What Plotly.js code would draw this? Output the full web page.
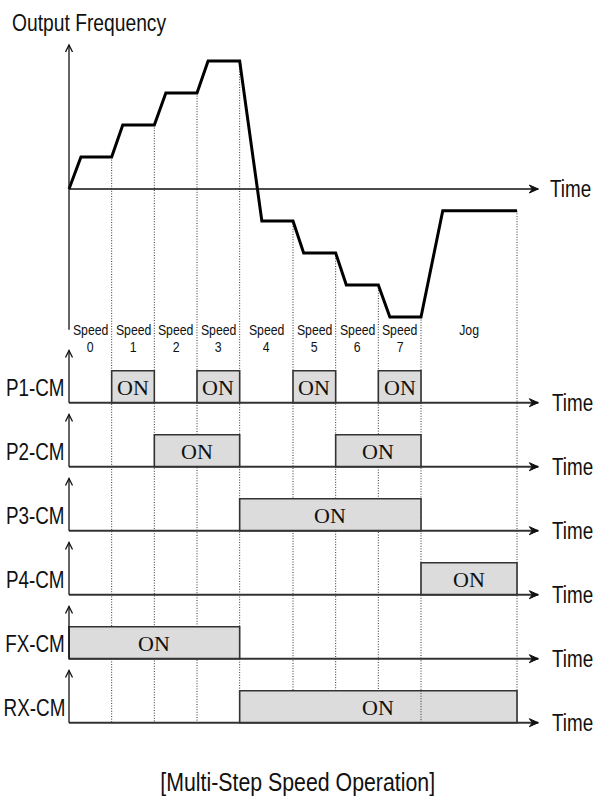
<!DOCTYPE html>
<html><head><meta charset="utf-8">
<script src="https://cdn.plot.ly/plotly-3.0.1.min.js"></script>
<style>html,body{margin:0;padding:0;background:#fff}#chart{width:596px;height:801px}</style>
</head><body><div id="chart"></div>
<script>
// ---------------- data ----------------
const segmentTop = ['Speed','Speed','Speed','Speed','Speed','Speed','Speed','Speed','Jog'];
const segmentSub = ['0','1','2','3','4','5','6','7',''];
const boundaries = [0, 1, 2, 3, 4, 5.25, 6.25, 7.25, 8.25, 10.5];
const freqTime  = [0, 0.28, 1, 1.26, 2, 2.27, 3, 3.26, 4, 4.52, 5.25, 5.5, 6.25, 6.5, 7.25, 7.52, 8.25, 8.76, 10.5];
const freqValue = [0, 1, 1, 2, 2, 3, 3, 4, 4, -1, -1, -2, -2, -3, -3, -4, -4, -0.68, -0.68];
const signalNames = ['P1-CM','P2-CM','P3-CM','P4-CM','FX-CM','RX-CM'];
const signalOn = [
  [[1,2],[3,4],[5.25,6.25],[7.25,8.25]],
  [[2,4],[6.25,8.25]],
  [[4,8.25]],
  [[8.25,10.5]],
  [[0,4]],
  [[4,10.5]]
];
const onText = 'ON';
const timeLabel = 'Time';
const yTitle = 'Output Frequency';
const caption = '[Multi-Step Speed Operation]';
const timeEnd = 11;

// ---------------- layout constants ----------------
const W = 596, H = 801;
const X0PX = 69, UNIT_X = (517 - 69) / 10.5;
const Y0PX = 189, UNIT_Y = 32;
const xr = [-X0PX / UNIT_X, (W - X0PX) / UNIT_X];
const yr = [(Y0PX - H) / UNIT_Y, Y0PX / UNIT_Y];
const ROW0 = (Y0PX - 402.7) / UNIT_Y, ROWGAP = 2;
const rowBase = signalNames.map((_, k) => ROW0 - ROWGAP * k);
const SANS = '"Liberation Sans", Arial, sans-serif';
const SERIF = '"Liberation Serif","Times New Roman",serif';
const NARROW = 0.82; // emulate Arial Narrow
const DOT = '1px,1.6px';
const px2x = p => p / W, py2y = p => 1 - p / H;

function levelAt(t) {
  const i = freqTime.indexOf(t);
  return freqValue[i];
}

const shapes = [];
const annotations = [];
const lastBase = rowBase[rowBase.length - 1];

// dotted guides
boundaries.slice(1).forEach(b => {
  shapes.push({type:'line', layer:'below', xref:'x', yref:'y', x0:b, x1:b, y0:levelAt(b), y1:lastBase,
    line:{color:'#333', width:1, dash:DOT}});
});

// ON boxes
signalOn.forEach((ivals, k) => {
  ivals.forEach(iv => {
    shapes.push({type:'rect', xref:'x', yref:'y', x0:iv[0], x1:iv[1], y0:rowBase[k], y1:rowBase[k] + 1,
      fillcolor:'#dcdcdc', line:{color:'#333', width:1.6}});
    annotations.push({xref:'x', yref:'y', x:(iv[0] + iv[1]) / 2, y:rowBase[k] + 0.47, text:onText,
      showarrow:false, xanchor:'center', yanchor:'middle', font:{family:SERIF, size:22, color:'#111'}});
  });
});
// guide through last box (drawn on top as in reference)
shapes.push({type:'line', xref:'x', yref:'y', x0:boundaries[8], x1:boundaries[8], y0:rowBase[5], y1:rowBase[5] + 1,
  line:{color:'#333', width:1, dash:DOT}});

// baselines and vertical axes for signal rows
rowBase.forEach((b, k) => {
  shapes.push({type:'line', xref:'x', yref:'y', x0:0, x1:timeEnd, y0:b, y1:b, line:{color:'#333', width:2}});
  shapes.push({type:'line', xref:'x', yref:'y', x0:0, x1:0, y0:b, y1:b + 1.63, line:{color:'#111', width:1.3}});
  shapes.push({type:'path', xref:'x', yref:'y', xsizemode:'pixel', ysizemode:'pixel', xanchor:0, yanchor:b + 1.63,
    path:'M-3.5,-7 L0,0 L3.5,-7', line:{color:'#111', width:1.3}});
  shapes.push({type:'path', xref:'x', yref:'y', xsizemode:'pixel', ysizemode:'pixel', xanchor:timeEnd, yanchor:b,
    path:'M0,0 L-9,4 L-6,0 L-9,-4 Z', fillcolor:'#111', line:{color:'#111', width:1}});
  annotations.push({xref:'paper', yref:'y', x:px2x(67), y:b + 0.47, text:signalNames[k], showarrow:false,
    xanchor:'right', align:'right', yanchor:'middle', font:{family:SANS, size:23, color:'#111'}});
  annotations.push({xref:'paper', yref:'y', x:px2x(550), y:b, text:timeLabel, showarrow:false,
    xanchor:'left', align:'left', yanchor:'middle', font:{family:SANS, size:23, color:'#111'}});
});

// main axes
shapes.push({type:'line', xref:'x', yref:'y', x0:0, x1:timeEnd, y0:0, y1:0, line:{color:'#111', width:1.3}});
shapes.push({type:'path', xref:'x', yref:'y', xsizemode:'pixel', ysizemode:'pixel', xanchor:timeEnd, yanchor:0,
  path:'M0,0 L-9,4 L-6,0 L-9,-4 Z', fillcolor:'#111', line:{color:'#111', width:1}});
shapes.push({type:'line', xref:'x', yref:'y', x0:0, x1:0, y0:-4.4, y1:4.5, line:{color:'#111', width:1.3}});
shapes.push({type:'path', xref:'x', yref:'y', xsizemode:'pixel', ysizemode:'pixel', xanchor:0, yanchor:4.5,
  path:'M-3.5,-7 L0,0 L3.5,-7', line:{color:'#111', width:1.3}});

annotations.push({xref:'paper', yref:'y', x:px2x(548), y:0, text:timeLabel, showarrow:false,
  xanchor:'left', align:'left', yanchor:'middle', font:{family:SANS, size:23, color:'#111'}});
annotations.push({xref:'paper', yref:'paper', x:px2x(10), y:py2y(23), text:yTitle, showarrow:false,
  xanchor:'left', align:'left', yanchor:'middle', font:{family:SANS, size:23.5, color:'#111'}});
annotations.push({xref:'paper', yref:'paper', x:px2x(297), y:py2y(782), text:caption, showarrow:false,
  xanchor:'center', yanchor:'middle', font:{family:SANS, size:26, color:'#111'}});

// segment labels
segmentTop.forEach((s, i) => {
  const c = (boundaries[i] + boundaries[i + 1]) / 2;
  annotations.push({xref:'x', yref:'paper', x:c, y:py2y(329), text:s, showarrow:false,
    xanchor:'center', yanchor:'middle', font:{family:SANS, size:15, color:'#111'}});
  if (segmentSub[i]) annotations.push({xref:'x', yref:'paper', x:c, y:py2y(347), text:segmentSub[i], showarrow:false,
    xanchor:'center', yanchor:'middle', font:{family:SANS, size:15, color:'#111'}});
});

const traces = [{
  type:'scatter', mode:'lines', x:freqTime, y:freqValue,
  line:{color:'#000', width:3}, hoverinfo:'skip', showlegend:false
}];

const layout = {
  width:W, height:H, margin:{l:0, r:0, t:0, b:0},
  paper_bgcolor:'#fff', plot_bgcolor:'#fff', showlegend:false,
  xaxis:{range:xr, visible:false, fixedrange:true},
  yaxis:{range:yr, visible:false, fixedrange:true},
  shapes:shapes, annotations:annotations
};
Plotly.newPlot('chart', traces, layout, {displayModeBar:false, staticPlot:true}).then(gd => {
  // condense the sans-serif texts horizontally around their anchor, like Arial Narrow
  gd.querySelectorAll('g.annotation').forEach(g => {
    const t = g.querySelector('text.annotation-text');
    if (!t) return;
    const fam = (t.style.fontFamily || t.getAttribute('font-family') || '');
    if (fam.indexOf('Liberation Sans') < 0) return;
    const L = t.getComputedTextLength();
    const diff = L * (1 - NARROW);
    const ax = parseFloat(t.getAttribute('x') || 0);
    const prev = t.getAttribute('transform') || '';
    t.setAttribute('transform', (prev + ' translate(' + (ax * (1 - NARROW)).toFixed(3) + ',0) scale(' + NARROW + ',1)').trim());
    const anchor = t.getAttribute('text-anchor') || t.style.textAnchor || 'middle';
    g.querySelectorAll('rect').forEach(r => {
      const w = parseFloat(r.getAttribute('width'));
      const x = parseFloat(r.getAttribute('x') || 0);
      if (!isFinite(w)) return;
      r.setAttribute('width', Math.max(0, w - diff));
      if (anchor === 'end') r.setAttribute('x', x + diff);
      else if (anchor === 'middle') r.setAttribute('x', x + diff / 2);
    });
  });
});
</script></body></html>
